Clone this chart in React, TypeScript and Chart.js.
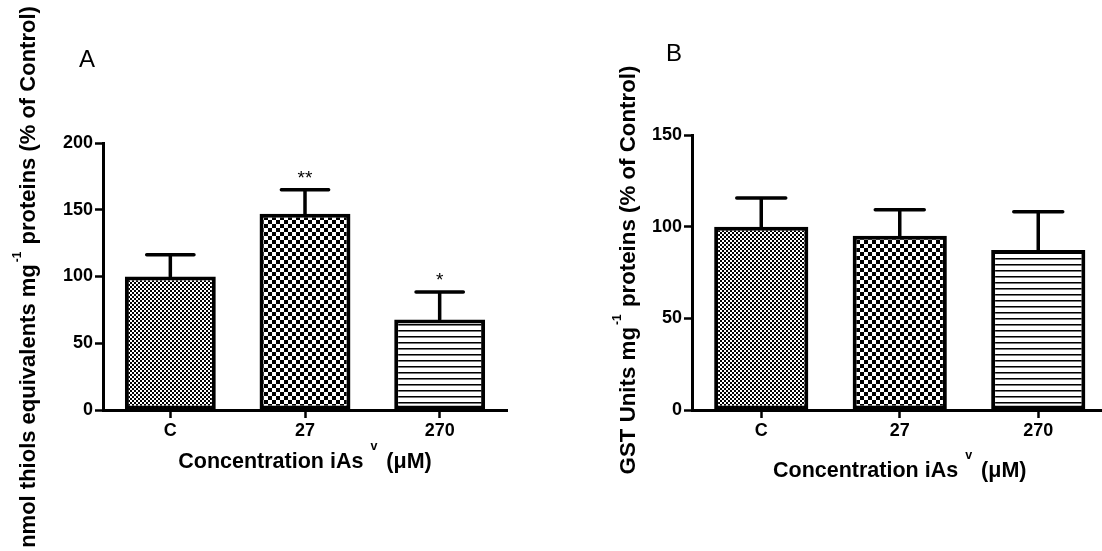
import React, { useEffect, useRef } from "react";
import { Chart, registerables } from "chart.js";

Chart.register(...registerables);

// ---------- data ----------
const categories = ["C", "27", "270"];

const thiolMeans = [100, 147, 67.7];
const thiolErrors = [16.3, 18, 20.6];
const thiolSignif = ["", "**", "*"];
const thiolTicks = [0, 50, 100, 150, 200];

const gstMeans = [100, 95, 87.3];
const gstErrors = [15.6, 14.2, 20.9];
const gstSignif = ["", "", ""];
const gstTicks = [0, 50, 100, 150];

const FONT = '"Liberation Sans", Arial, sans-serif';

type Seg = { text: string; size: number; rise?: number; gap?: number; bold?: boolean };

function drawRich(ctx: CanvasRenderingContext2D, segs: Seg[], cx: number, cy: number, rotate: boolean) {
  let total = 0;
  const widths: number[] = [];
  segs.forEach((s) => {
    ctx.font = `${s.bold === false ? "normal" : "bold"} ${s.size}px ${FONT}`;
    const w = ctx.measureText(s.text).width;
    widths.push(w);
    total += w + (s.gap || 0);
  });
  ctx.save();
  ctx.translate(cx, cy);
  if (rotate) ctx.rotate(-Math.PI / 2);
  ctx.fillStyle = "#000";
  ctx.textAlign = "left";
  ctx.textBaseline = "alphabetic";
  let x = -total / 2;
  segs.forEach((s, i) => {
    x += s.gap || 0;
    ctx.font = `${s.bold === false ? "normal" : "bold"} ${s.size}px ${FONT}`;
    ctx.fillText(s.text, x, -(s.rise || 0));
    x += widths[i];
  });
  ctx.restore();
}

function makePatterns(ctx: CanvasRenderingContext2D) {
  const tile = (w: number, h: number, draw: (g: CanvasRenderingContext2D) => void) => {
    const c = document.createElement("canvas");
    c.width = w;
    c.height = h;
    const g = c.getContext("2d")!;
    g.fillStyle = "#fff";
    g.fillRect(0, 0, w, h);
    g.fillStyle = "#000";
    draw(g);
    return ctx.createPattern(c, "repeat")!;
  };
  const fine = tile(4, 4, (g) => {
    g.fillRect(0, 0, 2, 2);
    g.fillRect(2, 2, 2, 2);
  });
  const coarse = tile(8, 8, (g) => {
    g.fillRect(0, 0, 4, 4);
    g.fillRect(4, 4, 4, 4);
  });
  const lines = tile(4, 6, (g) => {
    g.fillRect(0, 0, 4, 1);
    g.fillStyle = "#777";
    g.fillRect(0, 1, 4, 1);
  });
  return [fine, coarse, lines];
}

type Panel = {
  means: number[];
  errors: number[];
  signif: string[];
  ticks: number[];
  yMax: number;
  padding: { left: number; top: number; right: number; bottom: number };
  yWidth: number;
  xHeight: number;
  barPct: number;
  letter: string;
  letterX: number;
  letterY: number;
  yTitle: Seg[];
  yTitleX: number;
  yTitleY: number;
  xTitleY: number;
};

function overlay(p: Panel) {
  return {
    id: "overlay-" + p.letter,
    afterDatasetsDraw(chart: any) {
      const ctx: CanvasRenderingContext2D = chart.ctx;
      const meta = chart.getDatasetMeta(0);
      const y = chart.scales.y;
      meta.data.forEach((bar: any, i: number) => {
        const x = bar.x;
        const top = y.getPixelForValue(p.means[i]);
        const errY = y.getPixelForValue(p.means[i] + p.errors[i]);
        const half = bar.width * 0.26;
        ctx.save();
        ctx.strokeStyle = "#000";
        ctx.lineWidth = 3.5;
        ctx.lineCap = "round";
        ctx.beginPath();
        ctx.moveTo(x, top);
        ctx.lineTo(x, errY);
        ctx.moveTo(x - half, errY);
        ctx.lineTo(x + half, errY);
        ctx.stroke();
        if (p.signif[i]) {
          ctx.fillStyle = "#000";
          ctx.font = `normal 19px ${FONT}`;
          ctx.textAlign = "center";
          ctx.textBaseline = "alphabetic";
          ctx.fillText(p.signif[i], x, errY - 6);
        }
        ctx.restore();
      });
    },
    afterDraw(chart: any) {
      const ctx: CanvasRenderingContext2D = chart.ctx;
      const area = chart.chartArea;
      // panel letter
      ctx.save();
      ctx.fillStyle = "#000";
      ctx.font = `normal 24px ${FONT}`;
      ctx.textAlign = "center";
      ctx.textBaseline = "alphabetic";
      ctx.fillText(p.letter, p.letterX, p.letterY);
      ctx.restore();
      // y title
      drawRich(ctx, p.yTitle, p.yTitleX, p.yTitleY, true);
      // x title
      drawRich(
        ctx,
        [
          { text: "Concentration iAs", size: 21.5 },
          { text: "v", size: 12.5, rise: 18, gap: 7 },
          { text: "(\u03BCM)", size: 21.5, gap: 9 },
        ],
        (area.left + area.right) / 2,
        p.xTitleY,
        false
      );
    },
  };
}

function makeConfig(p: Panel, patterns: CanvasPattern[]) {
  const tickFont = { family: FONT, size: 18, weight: "bold" as const };
  return {
    type: "bar" as const,
    data: {
      labels: categories,
      datasets: [
        {
          data: p.means,
          backgroundColor: patterns,
          borderColor: "#000",
          borderWidth: 4,
          borderSkipped: false,
          barPercentage: p.barPct,
          categoryPercentage: 1,
        },
      ],
    },
    options: {
      animation: false as const,
      responsive: true,
      maintainAspectRatio: false,
      layout: { padding: p.padding },
      plugins: {
        legend: { display: false },
        tooltip: { enabled: false },
        title: { display: false },
      },
      scales: {
        x: {
          type: "category" as const,
          offset: true,
          afterFit: (s: any) => {
            s.height = p.xHeight;
          },
          grid: {
            display: true,
            offset: false,
            drawOnChartArea: false,
            drawTicks: true,
            tickLength: 8,
            tickWidth: 2.5,
            tickColor: "#000",
            color: "#000",
          },
          border: { display: true, color: "#000", width: 3 },
          ticks: { font: tickFont, color: "#000", padding: 2 },
        },
        y: {
          min: 0,
          max: p.yMax,
          afterFit: (s: any) => {
            s.width = p.yWidth;
          },
          afterBuildTicks: (s: any) => {
            s.ticks = p.ticks.map((v) => ({ value: v }));
          },
          grid: {
            display: true,
            drawOnChartArea: false,
            drawTicks: true,
            tickLength: 8,
            tickWidth: 2.5,
            tickColor: "#000",
            color: "#000",
          },
          border: { display: true, color: "#000", width: 3 },
          ticks: { font: tickFont, color: "#000", padding: 2 },
        },
      },
    },
    plugins: [overlay(p)],
  };
}

const panelA: Panel = {
  means: thiolMeans,
  errors: thiolErrors,
  signif: thiolSignif,
  ticks: thiolTicks,
  yMax: 200,
  padding: { left: 0, top: 143, right: 53, bottom: 0 },
  yWidth: 103,
  xHeight: 141,
  barPct: 0.675,
  letter: "A",
  letterX: 87,
  letterY: 67,
  yTitle: [
    { text: "nmol thiols equivalents mg", size: 22 },
    { text: "-1", size: 12, rise: 14, gap: 2 },
    { text: " proteins (% of Control)", size: 22, gap: 1 },
  ],
  yTitleX: 35,
  yTitleY: 277,
  xTitleY: 468,
};

const panelB: Panel = {
  means: gstMeans,
  errors: gstErrors,
  signif: gstSignif,
  ticks: gstTicks,
  yMax: 150,
  padding: { left: 0, top: 135, right: 52.5, bottom: 0 },
  yWidth: 132,
  xHeight: 141,
  barPct: 0.68,
  letter: "B",
  letterX: 114,
  letterY: 61,
  yTitle: [
    { text: "GST Units mg", size: 22.3 },
    { text: "-1", size: 12, rise: 14, gap: 2 },
    { text: " proteins (% of Control)", size: 22.3, gap: 1 },
  ],
  yTitleX: 75,
  yTitleY: 270,
  xTitleY: 477,
};

export default function App() {
  const refA = useRef<HTMLCanvasElement>(null);
  const refB = useRef<HTMLCanvasElement>(null);

  useEffect(() => {
    const ca = refA.current!;
    const cb = refB.current!;
    const pa = makePatterns(ca.getContext("2d")!);
    const pb = makePatterns(cb.getContext("2d")!);
    const a = new Chart(ca, makeConfig(panelA, pa) as any);
    const b = new Chart(cb, makeConfig(panelB, pb) as any);
    return () => {
      a.destroy();
      b.destroy();
    };
  }, []);

  return (
    <div
      style={{
        position: "absolute",
        left: 0,
        top: 0,
        width: 1102,
        height: 551,
        overflow: "hidden",
        background: "#fff",
      }}
    >
      <div style={{ position: "absolute", left: 0, top: 0, width: 560, height: 551 }}>
        <canvas ref={refA} />
      </div>
      <div style={{ position: "absolute", left: 560, top: 0, width: 600, height: 551 }}>
        <canvas ref={refB} />
      </div>
    </div>
  );
}
